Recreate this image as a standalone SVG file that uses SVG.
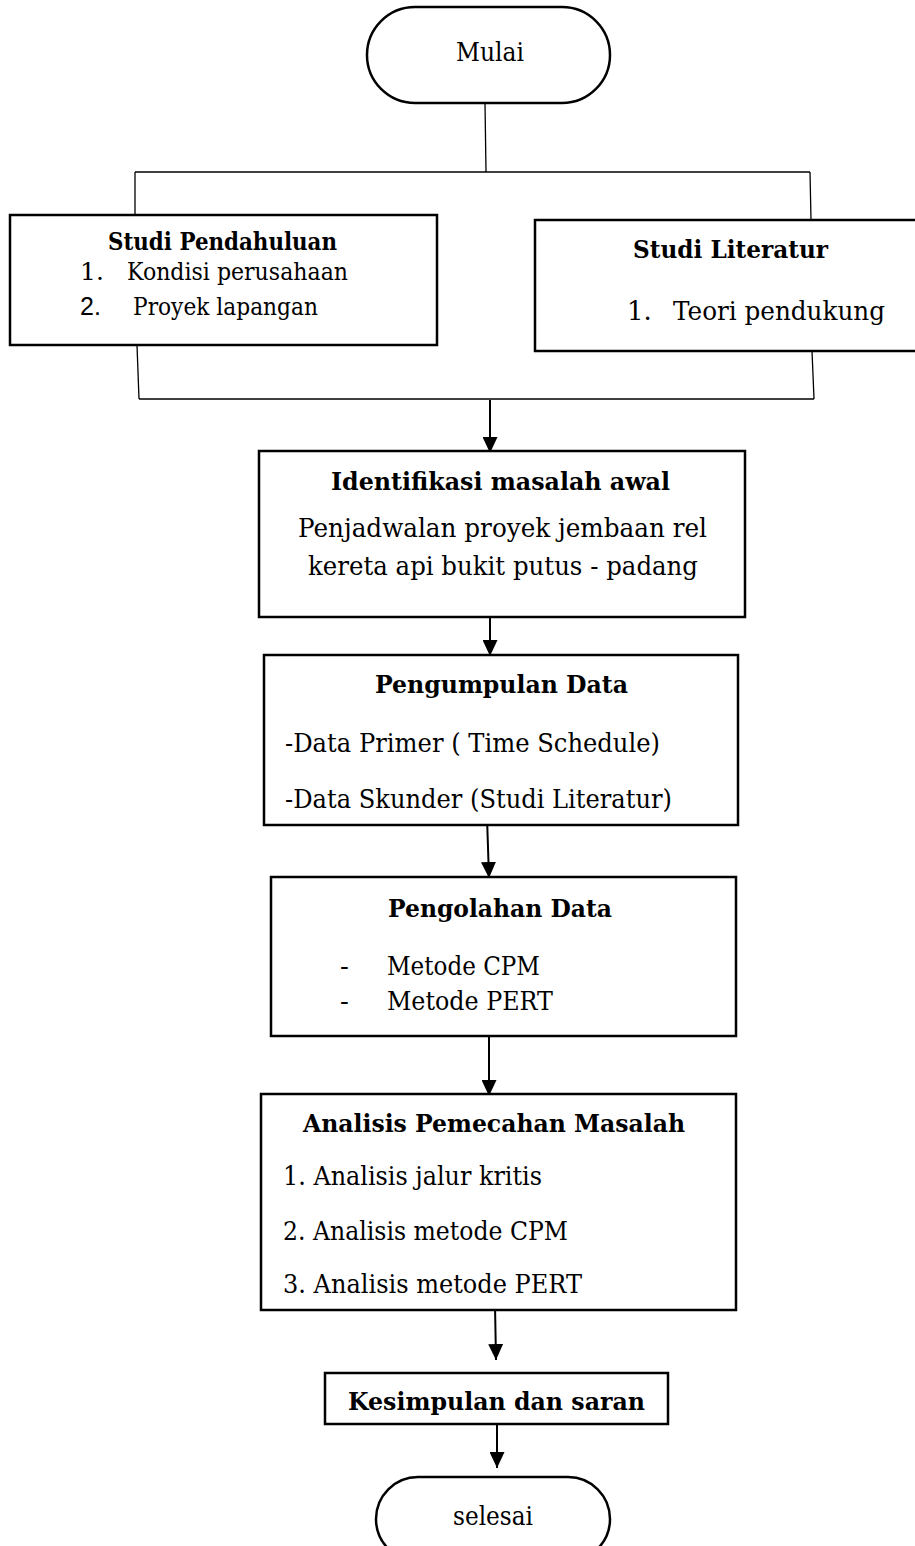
<svg xmlns="http://www.w3.org/2000/svg" width="915" height="1546" viewBox="0 0 915 1546">
<style>
.box{fill:#fff;stroke:#000;stroke-width:2.5}
.term{fill:#fff;stroke:#000;stroke-width:2.5}
.thin{fill:none;stroke:#000;stroke-width:1.3}
.arr{fill:none;stroke:#000;stroke-width:2;marker-end:url(#ah)}
text{font-family:"DejaVu Serif","Liberation Serif",serif;fill:#000}
.r{font-size:26px}
.s{font-size:25px}
.b{font-size:25px;font-weight:bold}
.sans{font-family:"Liberation Sans",Arial,sans-serif;font-size:25px}
</style>
<defs>
<marker id="ah" viewBox="0 0 16 15" refX="16" refY="7.5" markerWidth="16" markerHeight="15" markerUnits="userSpaceOnUse" orient="auto">
<path d="M0,0 L16,7.5 L0,15 z" fill="#000"/>
</marker>
</defs>
<rect width="915" height="1546" fill="#fff"/>
<g id="connectors">
<line class="thin" x1="485" y1="103" x2="486" y2="172"/>
<line class="thin" x1="135" y1="172" x2="810" y2="172"/>
<line class="thin" x1="135" y1="172" x2="135" y2="215"/>
<line class="thin" x1="810" y1="172" x2="811" y2="220"/>
<line class="thin" x1="137" y1="345" x2="139" y2="399"/>
<line class="thin" x1="812" y1="351" x2="814" y2="399"/>
<line class="thin" x1="139" y1="399" x2="814" y2="399"/>
<line class="arr" x1="490" y1="400" x2="490" y2="453"/>
<line class="arr" x1="490" y1="610" x2="490" y2="656"/>
<line class="arr" x1="487" y1="817" x2="489" y2="878"/>
<line class="arr" x1="489" y1="1029" x2="489" y2="1096"/>
<line class="arr" x1="495" y1="1305" x2="496" y2="1360"/>
<line class="arr" x1="497" y1="1420" x2="497" y2="1468"/>
</g>
<g id="mulai">
<rect class="term" x="367" y="7" width="243" height="96" rx="48" ry="48"/>
<text class="r" x="456" y="61" font-size="29" textLength="68" lengthAdjust="spacingAndGlyphs">Mulai</text>
</g>
<g id="studi-pendahuluan">
<rect class="box" x="10" y="215" width="427" height="130"/>
<text class="b" x="108" y="250" font-size="23" textLength="229" lengthAdjust="spacingAndGlyphs">Studi Pendahuluan</text>
<text class="s" x="80" y="280">1.</text>
<text class="s" x="127" y="280" textLength="221" lengthAdjust="spacingAndGlyphs">Kondisi perusahaan</text>
<text class="sans" x="80" y="315" font-size="27">2.</text>
<text class="s" x="133" y="315" textLength="185" lengthAdjust="spacingAndGlyphs">Proyek lapangan</text>
</g>
<g id="studi-literatur">
<rect class="box" x="535" y="220" width="383" height="131"/>
<text class="b" x="633" y="258" font-size="26" textLength="195" lengthAdjust="spacingAndGlyphs">Studi Literatur</text>
<text class="r" x="627" y="320" font-size="27">1.</text>
<text class="r" x="673" y="320" font-size="27" textLength="212" lengthAdjust="spacingAndGlyphs">Teori pendukung</text>
</g>
<g id="identifikasi">
<rect class="box" x="259" y="451" width="486" height="166"/>
<text class="b" x="331" y="490" textLength="339" lengthAdjust="spacingAndGlyphs">Identifikasi masalah awal</text>
<text class="r" x="298" y="537" textLength="409" lengthAdjust="spacingAndGlyphs">Penjadwalan proyek jembaan rel</text>
<text class="r" x="308" y="575" textLength="390" lengthAdjust="spacingAndGlyphs">kereta api bukit putus - padang</text>
</g>
<g id="pengumpulan">
<rect class="box" x="264" y="655" width="474" height="170"/>
<text class="b" x="375" y="693" textLength="253" lengthAdjust="spacingAndGlyphs">Pengumpulan Data</text>
<text class="r" x="285" y="752" textLength="375" lengthAdjust="spacingAndGlyphs">-Data Primer ( Time Schedule)</text>
<text class="r" x="285" y="808" textLength="387" lengthAdjust="spacingAndGlyphs">-Data Skunder (Studi Literatur)</text>
</g>
<g id="pengolahan">
<rect class="box" x="271" y="877" width="465" height="159"/>
<text class="b" x="388" y="917" textLength="224" lengthAdjust="spacingAndGlyphs">Pengolahan Data</text>
<text class="r" x="340" y="975">-</text>
<text class="r" x="387" y="975" textLength="153" lengthAdjust="spacingAndGlyphs">Metode CPM</text>
<text class="r" x="340" y="1010">-</text>
<text class="r" x="387" y="1010" textLength="166" lengthAdjust="spacingAndGlyphs">Metode PERT</text>
</g>
<g id="analisis">
<rect class="box" x="261" y="1094" width="475" height="216"/>
<text class="b" x="303" y="1132" textLength="382" lengthAdjust="spacingAndGlyphs">Analisis Pemecahan Masalah</text>
<text class="r" x="283" y="1185" textLength="259" lengthAdjust="spacingAndGlyphs">1. Analisis jalur kritis</text>
<text class="r" x="283" y="1240" textLength="285" lengthAdjust="spacingAndGlyphs">2. Analisis metode CPM</text>
<text class="r" x="283" y="1293" textLength="299" lengthAdjust="spacingAndGlyphs">3. Analisis metode PERT</text>
</g>
<g id="kesimpulan">
<rect class="box" x="325" y="1373" width="343" height="51"/>
<text class="b" x="348" y="1410" textLength="297" lengthAdjust="spacingAndGlyphs">Kesimpulan dan saran</text>
</g>
<g id="selesai">
<rect class="term" x="376" y="1477" width="234" height="84" rx="42" ry="42"/>
<text class="r" x="453" y="1525" textLength="80" lengthAdjust="spacingAndGlyphs">selesai</text>
</g>
</svg>
